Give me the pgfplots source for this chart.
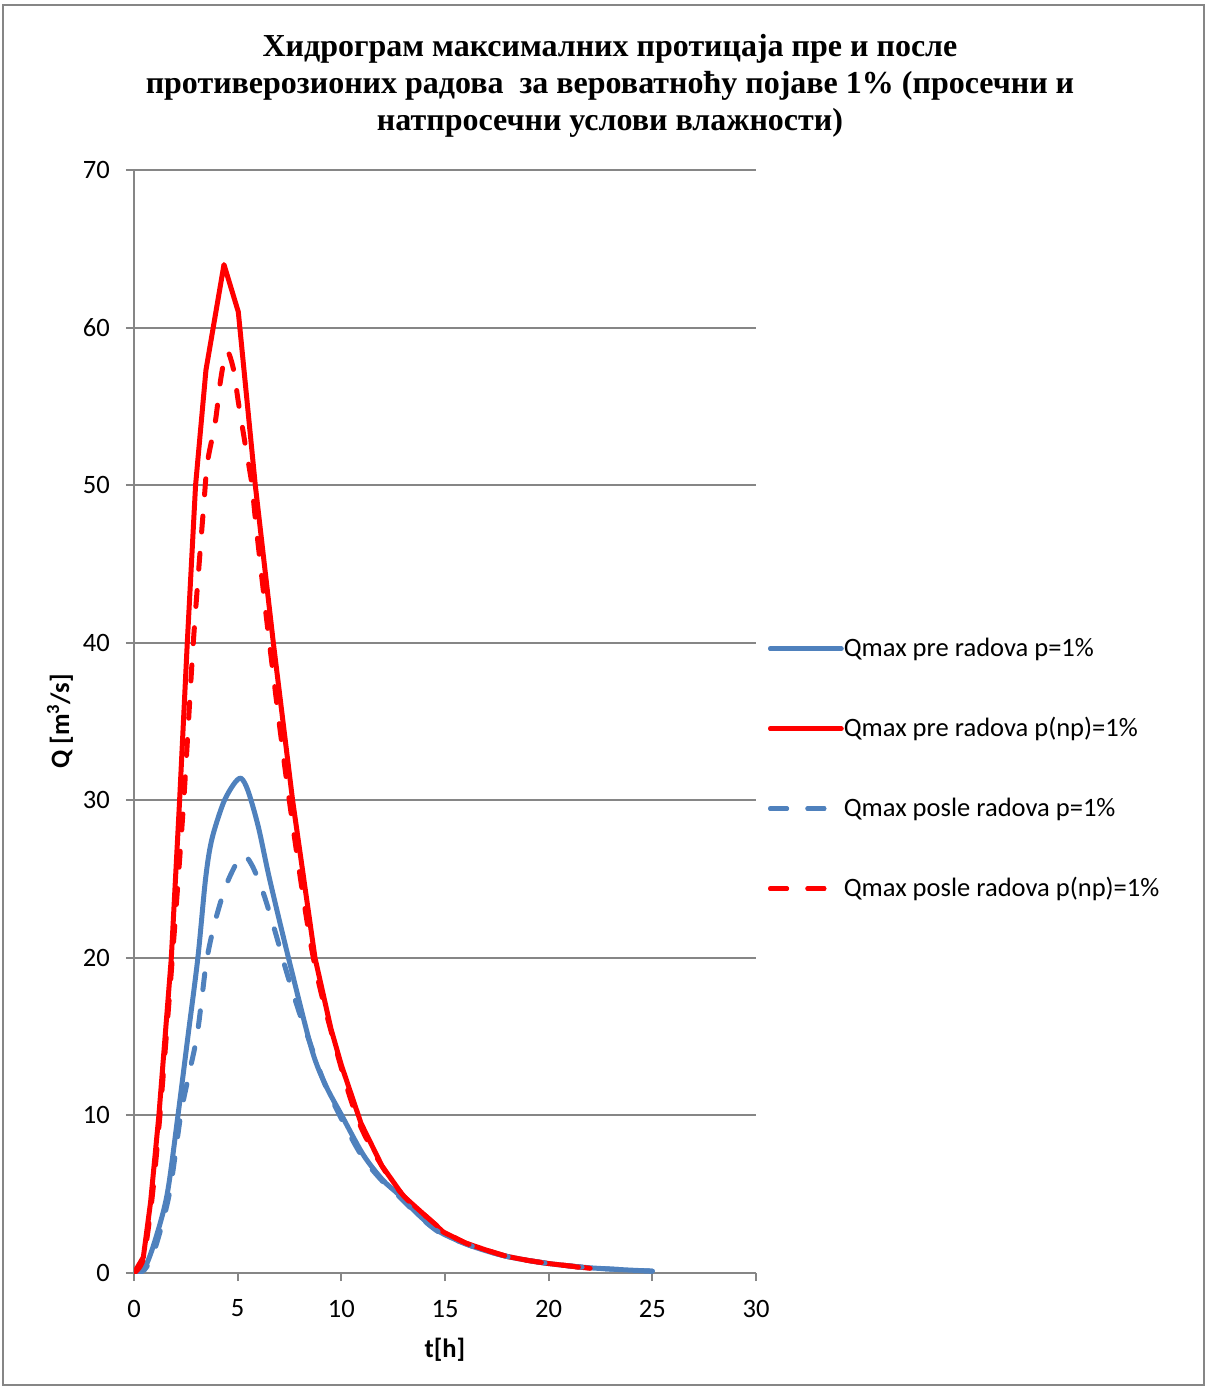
\documentclass[border=0pt]{standalone}
\usepackage{pgfplots}
\pgfplotsset{compat=1.18}
\usepackage{fontspec}
\setmainfont{Carlito}
\newfontfamily\titlefont{Liberation Serif}
\definecolor{exblue}{HTML}{4F81BD}
\definecolor{exred}{HTML}{FF0000}
\definecolor{exgrid}{HTML}{868686}

\pgfplotstableread{
t Q
0 0
0.45 1.0
0.8 4.5
1.2 10
1.8 20
2.2 30
2.57 40
2.97 50
3.47 57.3
4.34 64.0
5.03 61.0
5.85 50
6.72 40
7.65 30
8.73 20
9.5 15.5
10.0 13.2
10.95 9.5
11.96 6.8
12.98 4.9
14.0 3.7
14.92 2.6
16 1.9
17 1.45
18 1.05
19 0.8
20 0.6
21 0.45
22 0.3
}\redsolid

\pgfplotstableread{
t Q
0 0
0.45 0.9
0.85 4.5
1.25 10
1.85 20
2.4 30
2.86 40
3.38 49
3.55 51.5
3.92 54.0
4.18 56.7
4.47 58.5
4.79 57.4
5.03 55.3
5.35 52.7
5.68 50.1
5.89 47.4
6.53 40
7.49 30
8.65 20
10.0 13
10.9 9.4
12 6.7
13 4.9
14 3.7
15 2.6
16 1.9
17 1.45
18 1.05
19 0.8
20 0.6
21 0.45
21.8 0.3
}\reddash

\pgfplotstableread{
t Q
0 0
0.5 0.3
1.0 2.0
1.6 5
2.12 10
2.6 15
3.08 20
3.45 25
3.75 27.5
4.3 29.8
4.8 31.0
5.16 31.4
5.5 30.6
6.0 28.3
6.54 25
7.45 20
8.57 14.2
9.25 11.9
10.02 10
11.06 7.5
12.0 5.9
12.75 5
13.8 3.6
14.76 2.6
16 1.85
17 1.4
18 1.05
19 0.8
20 0.6
21 0.45
22 0.33
23 0.25
24 0.18
25 0.12
}\bluesolid

\pgfplotstableread{
t Q
0 0
0.5 0.2
1.0 1.5
1.7 5
2.25 10
2.6 12.3
3.02 14.9
3.26 17.3
3.51 19.9
3.91 22.3
4.47 24.7
5.2 26.5
5.68 25.9
6.24 24.1
6.80 21.7
7.36 19.1
7.93 16.7
8.49 14.6
9.2 12
10.0 9.8
11 7.4
12 5.8
12.75 4.9
13.8 3.55
14.76 2.55
16 1.85
17 1.4
18 1.05
19 0.8
20 0.6
21 0.45
22 0.33
23 0.25
24 0.18
25 0.12
}\bluedash

\begin{document}
\begin{tikzpicture}
\useasboundingbox (0,0) rectangle (904.5pt,-1041pt);
\draw[exgrid, line width=1.5pt] (2.25pt,-3.75pt) rectangle (903pt,-1038.75pt);
\node[align=center, font=\titlefont\bfseries\fontsize{24}{27.75}\selectfont] at (457.5pt,-64.5pt)
 {Хидрограм максималних протицаја пре и после\\
 противерозионих радова\ \ за вероватноћу појаве 1\% (просечни и\\
 натпросечни услови влажности)};
\begin{axis}[
 at={(100.5pt,-954.75pt)}, anchor=south west,
 scale only axis, width=466.5pt, height=827.25pt,
 xmin=0, xmax=30, ymin=0, ymax=70,
 xtick={0,5,...,30}, ytick={0,10,...,70},
 axis x line=bottom, axis y line=left,
 axis line style={-, exgrid, line width=1.5pt},
 tick align=outside, major tick length=6pt,
 tick style={exgrid, line width=1.5pt},
 ymajorgrids, major grid style={exgrid, line width=1.5pt},
 ticklabel style={font=\fontsize{19.9}{24}\selectfont},
 /pgf/number format/assume math mode=true,
 xticklabel style={inner sep=0pt, anchor=north, yshift=-14pt},
 yticklabel style={inner sep=0pt, anchor=east, xshift=-12pt},
 xlabel={\textbf{t[h]}}, ylabel={\textbf{Q [m\textsuperscript{3}/s]}},
 label style={font=\fontsize{19.9}{24}\selectfont},
 xlabel style={at={(axis description cs:0.5,-0.07)}, anchor=center},
 ylabel style={at={(axis description cs:-0.119,0.5)}, anchor=center},
 legend style={at={(1.019,0.456)}, anchor=west, draw=none, fill=none,
   font=\fontsize{19.9}{24}\selectfont, inner sep=0pt, row sep=42pt,
   nodes={inner sep=0pt, text height=14pt, text depth=4pt, anchor=base west}},
 legend cell align=left,
 legend image code/.code={\draw[#1] (0pt,6pt) -- (45pt,6pt); \path (0pt,6pt) -- (53pt,6pt);},
]
\addplot[exblue, line width=3.75pt, smooth, line cap=round, line join=round] table[x=t,y=Q]{\bluesolid};
\addlegendentry{Qmax pre radova p=1\%}
\addplot[exred, line width=3.75pt, line cap=round, line join=round] table[x=t,y=Q]{\redsolid};
\addlegendentry{Qmax pre radova p(np)=1\%}
\addplot[exblue, line width=3.75pt, smooth, line cap=round, dash pattern=on 12pt off 16pt] table[x=t,y=Q]{\bluedash};
\addlegendentry{Qmax posle radova p=1\%}
\addplot[exred, line width=3.75pt, smooth, line cap=round, dash pattern=on 12pt off 16pt] table[x=t,y=Q]{\reddash};
\addlegendentry{Qmax posle radova p(np)=1\%}
\end{axis}
\end{tikzpicture}
\end{document}
